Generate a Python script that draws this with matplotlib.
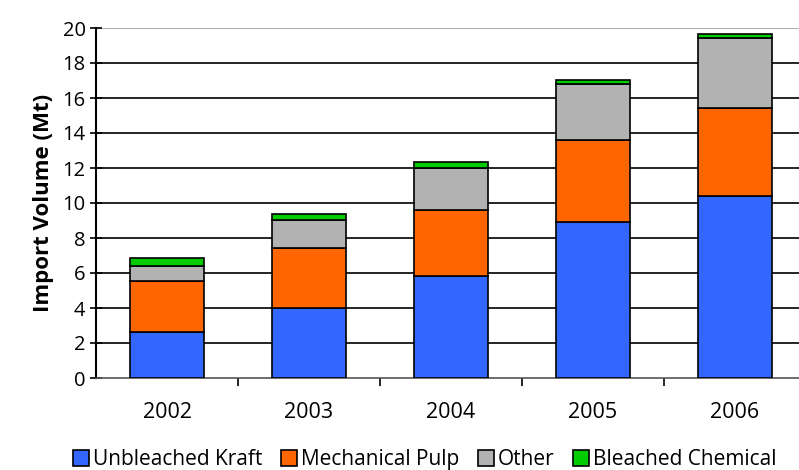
import matplotlib.pyplot as plt
import numpy as np

years = ["2002", "2003", "2004", "2005", "2006"]
kraft = [2.63, 4.0, 5.83, 8.91, 10.4]
mech = [2.93, 3.41, 3.77, 4.69, 5.03]
other = [0.82, 1.62, 2.38, 3.2, 4.02]
bleached = [0.48, 0.34, 0.36, 0.23, 0.22]

names = ["Unbleached Kraft", "Mechanical Pulp", "Other", "Bleached Chemical"]
colors = ["#3366ff", "#ff6600", "#b2b2b2", "#00cc00"]

plt.rcParams['font.family'] = ['Open Sans', 'DejaVu Sans']

fig = plt.figure(figsize=(7.99, 4.70), dpi=100)
ax = fig.add_axes([96 / 799, 1 - 378 / 470, 710 / 799, 350 / 470])

x = np.arange(len(years))
bottom = np.zeros(len(years))
for vals, name, c in zip([kraft, mech, other, bleached], names, colors):
    ax.bar(x, vals, 0.52, bottom=bottom, color=c, edgecolor="black",
           linewidth=1.2, label=name, zorder=3)
    bottom += np.array(vals)

ax.set_xlim(-0.5, 4.5)
ax.set_ylim(0, 20)
ax.set_yticks(range(0, 21, 2))
for yv in range(2, 20, 2):
    ax.axhline(yv, color="black", linewidth=1.2, zorder=1)
ax.axhline(20, color="#b0b0b0", linewidth=1.5, zorder=1)

ax.set_xticks(x)
ax.set_xticklabels(years)
ax.set_xticks(np.arange(0.5, 4.5, 1), minor=True)
ax.tick_params(axis="x", which="major", length=0, pad=17, labelsize=15.5)
ax.tick_params(axis="x", which="minor", length=6, width=1.2, direction="out")
ax.tick_params(axis="y", length=9, width=1.2, direction="inout", labelsize=14.5, pad=3)

for s in ["top", "right"]:
    ax.spines[s].set_visible(False)
ax.spines["left"].set_linewidth(1.5)
ax.spines["bottom"].set_linewidth(1.2)
ax.spines["bottom"].set_color("#555555")

ax.set_ylabel("Import Volume (Mt)", fontsize=16, fontweight="bold", labelpad=6)

handles, labels = ax.get_legend_handles_labels()
fig.legend(handles, labels, loc="center", bbox_to_anchor=(0.532, 0.022),
           ncol=4, frameon=False, fontsize=15, handlelength=0.75,
           handleheight=0.75, handletextpad=0.2, columnspacing=0.9,
           borderaxespad=0)

fig.savefig("out.png", dpi=100)
